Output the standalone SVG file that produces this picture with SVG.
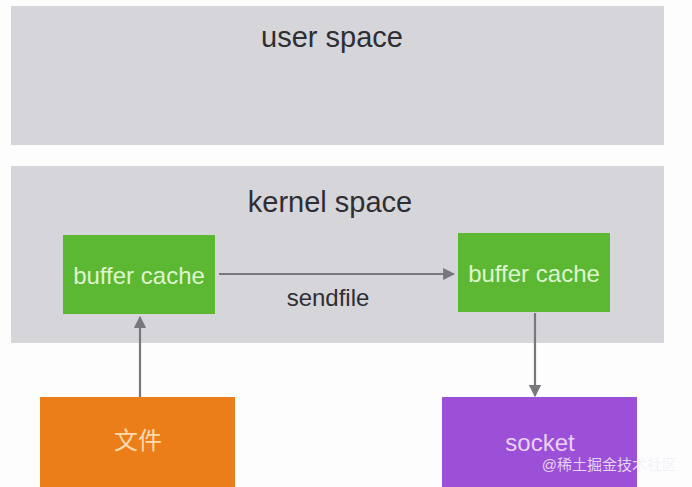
<svg xmlns="http://www.w3.org/2000/svg" width="692" height="487" viewBox="0 0 692 487">
<defs>
<marker id="ah" viewBox="0 0 10 10" refX="9" refY="5" markerWidth="5.5" markerHeight="5.5" orient="auto" markerUnits="strokeWidth">
<path d="M0,0 L10,5 L0,10 z" fill="#77777c"/>
</marker>
<style>
.lane{fill:#d6d5da}
.title{font-family:"Liberation Sans",Arial,sans-serif;font-size:29px;fill:#2e2e33;text-anchor:middle}
.lbl{font-family:"Liberation Sans","Noto Sans CJK SC",sans-serif;font-size:24px;text-anchor:middle;dominant-baseline:central}
.edge{stroke:#77777c;stroke-width:2.2;fill:none;marker-end:url(#ah)}
</style>
</defs>
<rect width="692" height="487" fill="#fdfdfe"/>
<g id="user-space">
<rect class="lane" x="11" y="6" width="653" height="139"/>
<text class="title" x="332" y="47" font-size="31">user space</text>
</g>
<g id="kernel-space">
<rect class="lane" x="11" y="166" width="653" height="177"/>
<text class="title" x="330" y="212">kernel space</text>
</g>
<g id="buffer-cache-left">
<rect x="63" y="235" width="152" height="79" fill="#5cb833"/>
<text class="lbl" x="139" y="275" fill="#dff5cf">buffer cache</text>
</g>
<g id="buffer-cache-right">
<rect x="458" y="233" width="152" height="79" fill="#5cb833"/>
<text class="lbl" x="534" y="273" fill="#dff5cf">buffer cache</text>
</g>
<g id="file">
<rect x="40" y="397" width="195" height="95" fill="#ec7e1a"/>
<text class="lbl" x="138" y="440" fill="#fadbb0" font-size="25">文件</text>
</g>
<g id="socket">
<rect x="442" y="397" width="195" height="95" fill="#9c4fd7"/>
<text class="lbl" x="540" y="442" fill="#ead2f7" font-size="27">socket</text>
</g>
<g id="connectors">
<line class="edge" x1="219" y1="274" x2="454" y2="274"/>
<line class="edge" x1="140" y1="397" x2="140" y2="317"/>
<line class="edge" x1="535" y1="313" x2="535" y2="396"/>
</g>
<text class="lbl" x="328" y="297" fill="#2e2e33">sendfile</text>
<text x="677" y="470" font-family="'Liberation Sans','Noto Sans CJK SC',sans-serif" font-size="15" fill="#f4eef7" fill-opacity="0.85" text-anchor="end">@稀土掘金技术社区</text>
</svg>
